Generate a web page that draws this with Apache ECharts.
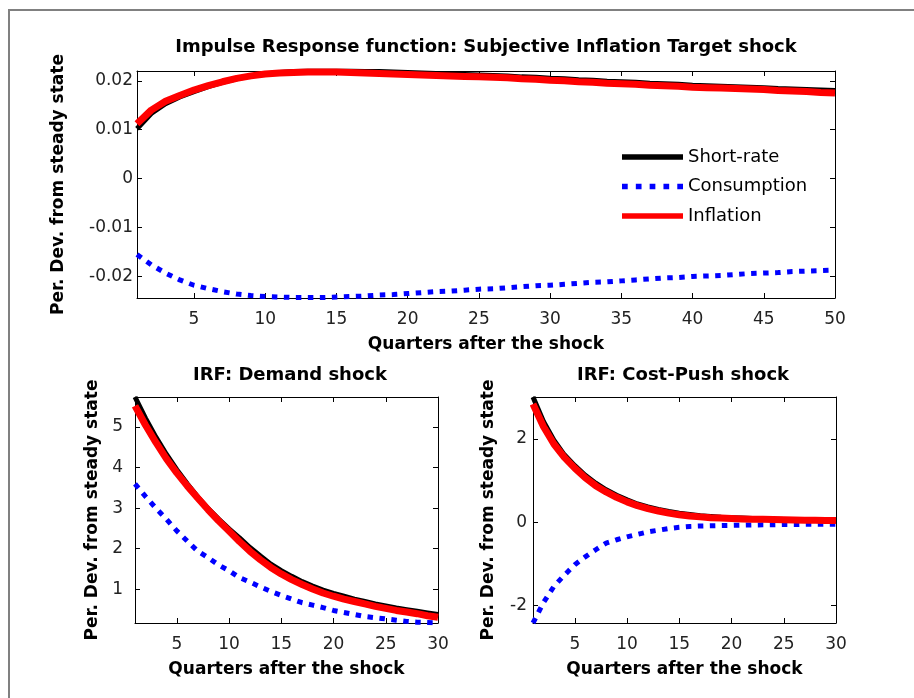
<!DOCTYPE html>
<html>
<head>
<meta charset="utf-8">
<script src="https://cdn.jsdelivr.net/npm/echarts@6/dist/echarts.min.js"></script>
<style>
html,body{margin:0;padding:0;background:#fff;}
#chart{width:914px;height:698px;}
</style>
</head>
<body>
<div id="chart"></div>
<script>
// ---- Data ----
const seriesNames = ['Short-rate', 'Consumption', 'Inflation'];

// Top panel: Subjective Inflation Target shock (quarters 1..50)
const topShortRate = [0.0102,0.0133,0.0153,0.0167,0.0178,0.0188,0.0197,0.0204,0.0210,0.0214,
  0.0217,0.0219,0.0220,0.0220,0.0220,0.0220,0.0219,0.0219,0.0218,0.0217,
  0.0216,0.0215,0.0214,0.0213,0.0212,0.0211,0.0210,0.0208,0.0207,0.0205,
  0.0204,0.0202,0.0201,0.0199,0.0198,0.0197,0.0195,0.0194,0.0193,0.0191,
  0.0190,0.0189,0.0188,0.0187,0.0186,0.0184,0.0183,0.0182,0.0181,0.0180];
const topConsumption = [-0.0155,-0.0176,-0.0193,-0.0207,-0.0218,-0.0225,-0.0231,-0.0236,-0.0239,-0.0241,
  -0.0242,-0.0243,-0.0243,-0.0243,-0.0242,-0.0241,-0.0240,-0.0238,-0.0237,-0.0235,
  -0.0233,-0.0231,-0.0230,-0.0228,-0.0226,-0.0225,-0.0223,-0.0221,-0.0219,-0.0218,
  -0.0216,-0.0214,-0.0212,-0.0211,-0.0209,-0.0207,-0.0205,-0.0203,-0.0202,-0.0200,
  -0.0199,-0.0198,-0.0196,-0.0194,-0.0193,-0.0192,-0.0190,-0.0189,-0.0188,-0.0187];
const topInflation = [0.0112,0.0140,0.0158,0.0170,0.0181,0.0190,0.0198,0.0205,0.0210,0.0214,
  0.0216,0.0217,0.0218,0.0218,0.0218,0.0217,0.0216,0.0215,0.0214,0.0213,
  0.0212,0.0211,0.0210,0.0209,0.0208,0.0207,0.0206,0.0204,0.0203,0.0201,
  0.0200,0.0198,0.0197,0.0195,0.0194,0.0193,0.0191,0.0190,0.0189,0.0187,
  0.0186,0.0185,0.0184,0.0183,0.0182,0.0180,0.0179,0.0178,0.0176,0.0175];

// Bottom-left: Demand shock (quarters 1..30)
const demandShortRate = [5.74,5.22,4.75,4.33,3.95,3.60,3.28,2.99,2.73,2.49,
  2.27,2.03,1.82,1.62,1.46,1.32,1.19,1.08,0.98,0.90,
  0.83,0.76,0.70,0.64,0.59,0.54,0.50,0.46,0.42,0.38];
const demandConsumption = [3.60,3.29,3.00,2.73,2.44,2.19,1.94,1.78,1.60,1.46,
  1.29,1.18,1.06,0.95,0.85,0.76,0.67,0.61,0.55,0.48,
  0.43,0.38,0.33,0.30,0.27,0.24,0.21,0.19,0.18,0.17];
const demandInflation = [5.52,5.05,4.62,4.22,3.87,3.55,3.25,2.96,2.69,2.44,
  2.18,1.94,1.73,1.54,1.38,1.24,1.12,1.01,0.91,0.83,
  0.76,0.70,0.64,0.58,0.53,0.48,0.44,0.40,0.35,0.31];

// Bottom-right: Cost-Push shock (quarters 1..30)
const costShortRate = [3.01,2.42,1.97,1.62,1.36,1.13,0.94,0.78,0.65,0.54,
  0.44,0.37,0.31,0.26,0.22,0.19,0.16,0.14,0.12,0.11,
  0.10,0.09,0.08,0.07,0.065,0.06,0.055,0.05,0.05,0.045];
const costConsumption = [-2.42,-1.93,-1.54,-1.27,-1.02,-0.83,-0.66,-0.50,-0.42,-0.35,
  -0.29,-0.23,-0.19,-0.15,-0.12,-0.10,-0.09,-0.085,-0.08,-0.075,
  -0.07,-0.065,-0.06,-0.06,-0.055,-0.055,-0.05,-0.05,-0.05,-0.05];
const costInflation = [2.84,2.30,1.88,1.56,1.30,1.07,0.88,0.73,0.60,0.49,
  0.40,0.33,0.27,0.22,0.18,0.15,0.13,0.11,0.10,0.09,
  0.08,0.075,0.07,0.065,0.06,0.055,0.05,0.05,0.045,0.04];

// Tick values
const topXTicks = [5,10,15,20,25,30,35,40,45,50];
const topYTicks = [-0.02,-0.01,0,0.01,0.02];
const botXTicks = [5,10,15,20,25,30];
const demandYTicks = [1,2,3,4,5];
const costYTicks = [-2,0,2];

const titles = ['Impulse Response function: Subjective Inflation Target shock', 'IRF: Demand shock', 'IRF: Cost-Push shock'];
const xName = 'Quarters after the shock';
const yName = 'Per. Dev. from steady state';

// ---- Build ----
const FONT = 'DejaVu Sans';
const toXY = arr => arr.map((v, i) => [i + 1, v]);

function xAxes(grid, max, ticks) {
  const common = {
    gridIndex: grid, type: 'value', min: 1, max: max,
    splitLine: {show: false},
    axisLine: {show: true, onZero: false, lineStyle: {color: '#000', width: 1}},
    axisTick: {show: true, inside: true, length: 5, customValues: ticks, lineStyle: {color: '#000'}}
  };
  return [
    Object.assign({}, common, {
      position: 'bottom',
      axisLabel: {show: true, customValues: ticks, margin: 13, color: '#222', fontFamily: FONT, fontSize: 17},
      name: xName, nameLocation: 'middle', nameGap: 38,
      nameTextStyle: {color: '#000', fontFamily: FONT, fontWeight: 'bold', fontSize: 17}
    }),
    Object.assign({}, common, {position: 'top', axisLabel: {show: false}})
  ];
}
function yAxes(grid, min, max, ticks, margin, gap) {
  const common = {
    gridIndex: grid, type: 'value', min: min, max: max,
    splitLine: {show: false},
    axisLine: {show: true, onZero: false, lineStyle: {color: '#000', width: 1}},
    axisTick: {show: true, inside: true, length: 5, customValues: ticks, lineStyle: {color: '#000'}}
  };
  return [
    Object.assign({}, common, {
      position: 'left',
      axisLabel: {show: true, customValues: ticks, margin: margin, color: '#222', fontFamily: FONT, fontSize: 17},
      name: yName, nameLocation: 'middle', nameGap: gap, nameRotate: 90,
      nameTextStyle: {color: '#000', fontFamily: FONT, fontWeight: 'bold', fontSize: 17}
    }),
    Object.assign({}, common, {position: 'right', axisLabel: {show: false}})
  ];
}

const styles = {
  'Short-rate': {color: '#000000', width: 5, type: 'solid'},
  'Consumption': {color: '#0000ff', width: 5, type: [5.5, 6.5]},
  'Inflation': {color: '#ff0000', width: 7, type: 'solid'}
};
function mkSeries(name, data, axisIdx) {
  const s = styles[name];
  return {
    name: name, type: 'line', xAxisIndex: axisIdx, yAxisIndex: axisIdx,
    data: toXY(data), symbol: 'none', smooth: false, animation: false,
    itemStyle: {color: s.color},
    lineStyle: {color: s.color, width: s.width, type: s.type, cap: 'butt', join: 'round'},
    clip: true
  };
}

const solidIcon = 'path://M0,0H64V6H0Z';
const dotIcon = 'path://M0,0h6v6h-6zM14.5,0h6v6h-6zM29,0h6v6h-6zM43.5,0h6v6h-6zM58,0h6v6h-6z';

const option = {
  animation: false,
  backgroundColor: '#fff',
  textStyle: {fontFamily: FONT},
  graphic: [{
    type: 'polyline', silent: true,
    shape: {points: [[9, 698], [9, 10], [914, 10]]},
    style: {stroke: '#808080', lineWidth: 2, fill: null}
  }],
  title: [
    {text: titles[0], left: 481, top: 33, textAlign: 'center',
      textStyle: {fontFamily: FONT, fontWeight: 'bold', fontSize: 18, color: '#000'}},
    {text: titles[1], left: 285, top: 361, textAlign: 'center',
      textStyle: {fontFamily: FONT, fontWeight: 'bold', fontSize: 18, color: '#000'}},
    {text: titles[2], left: 678, top: 361, textAlign: 'center',
      textStyle: {fontFamily: FONT, fontWeight: 'bold', fontSize: 18, color: '#000'}}
  ],
  legend: {
    data: [
      {name: seriesNames[0], icon: solidIcon},
      {name: seriesNames[1], icon: dotIcon},
      {name: seriesNames[2], icon: solidIcon}
    ],
    orient: 'vertical', left: 617, top: 143,
    itemWidth: 61, itemHeight: 6, itemGap: 11.5,
    textStyle: {fontFamily: FONT, fontSize: 18, color: '#000'},
    backgroundColor: 'transparent', borderWidth: 0
  },
  grid: [
    {left: 137, top: 71, width: 698, height: 227},
    {left: 135, top: 397, width: 303, height: 226},
    {left: 533, top: 397, width: 303, height: 226}
  ],
  xAxis: [].concat(xAxes(0, 50, topXTicks), xAxes(1, 30, botXTicks), xAxes(2, 30, botXTicks)),
  yAxis: [].concat(
    yAxes(0, -0.0244, 0.022, topYTicks, 4, 70),
    yAxes(1, 0.17, 5.74, demandYTicks, 12, 34),
    yAxes(2, -2.42, 3.01, costYTicks, 6, 36)
  ),
  series: [
    mkSeries('Short-rate', topShortRate, 0),
    mkSeries('Consumption', topConsumption, 0),
    mkSeries('Inflation', topInflation, 0),
    mkSeries('Short-rate', demandShortRate, 2),
    mkSeries('Consumption', demandConsumption, 2),
    mkSeries('Inflation', demandInflation, 2),
    mkSeries('Short-rate', costShortRate, 4),
    mkSeries('Consumption', costConsumption, 4),
    mkSeries('Inflation', costInflation, 4)
  ]
};
const chart = echarts.init(document.getElementById('chart'), null, {renderer: 'canvas'});
chart.setOption(option);
</script>
</body>
</html>
